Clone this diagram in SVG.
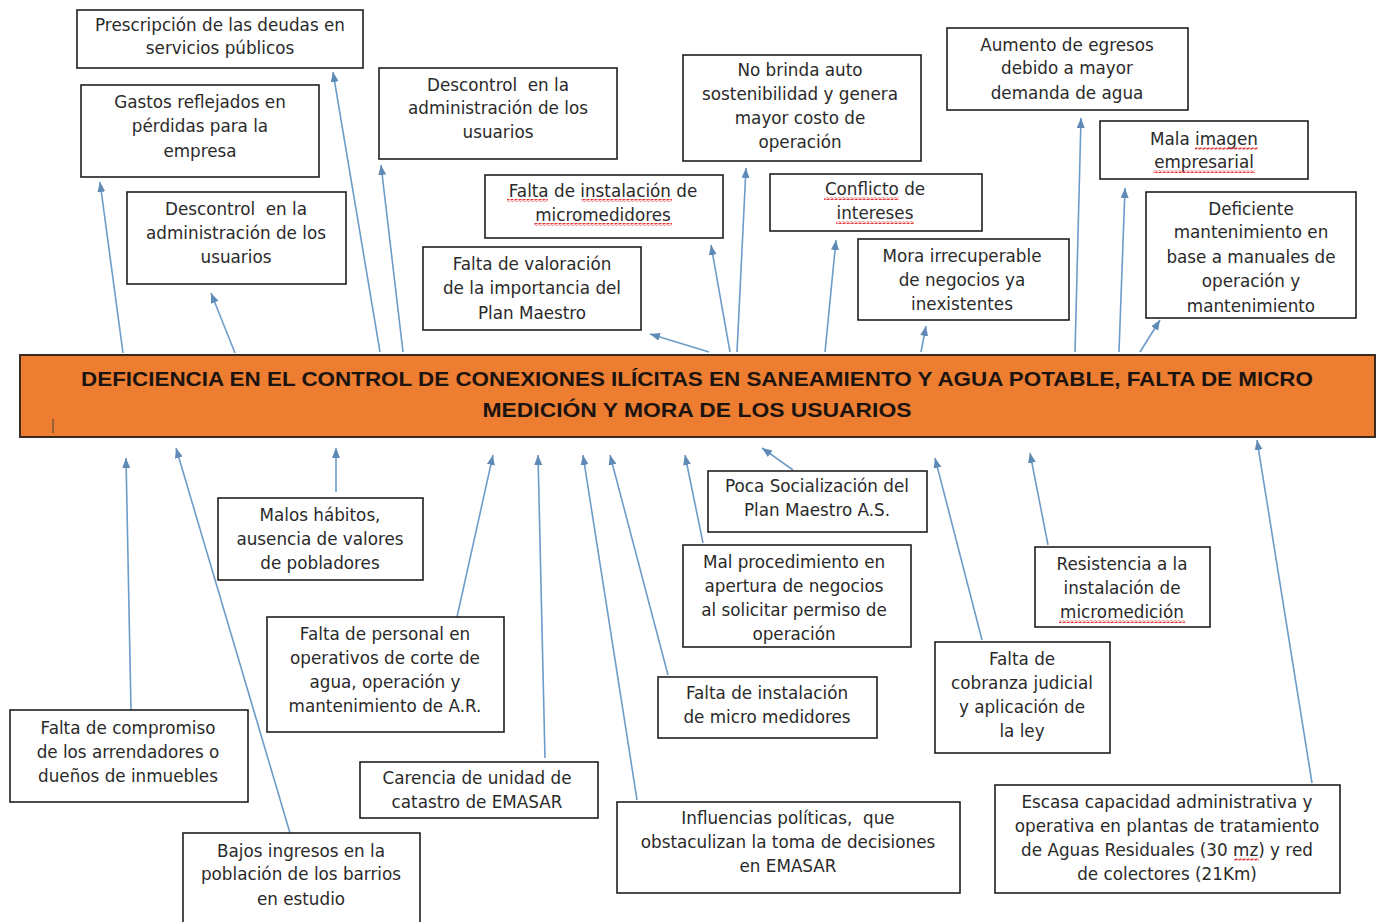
<svg xmlns="http://www.w3.org/2000/svg" width="1376" height="922" viewBox="0 0 1376 922">
<style>
.box{fill:#fff;stroke:#1e1e1e;stroke-width:1.6}
.t{font-family:"DejaVu Sans","Open Sans",sans-serif;font-size:16.8px;fill:#2a2a2a;text-anchor:middle;white-space:pre}
.c{stroke:#6e9cc8;stroke-width:1.6;fill:none;marker-end:url(#ah)}
.bar{fill:#ED7D31;stroke:#3a2a20;stroke-width:2}
.title{font-family:"Liberation Sans",Arial,sans-serif;font-size:21px;font-weight:bold;fill:#1c1410;text-anchor:middle}
.sq{fill:url(#wave)}
</style>
<defs>
<marker id="ah" markerUnits="userSpaceOnUse" markerWidth="12" markerHeight="10" refX="10" refY="4" orient="auto">
<path d="M0,0 L10,4 L0,8 z" fill="#5f8ab5"/>
</marker>
<pattern id="wave" patternUnits="userSpaceOnUse" width="4" height="3">
<path d="M0,2.5 L1,0.5 L3,2.5 L4,0.5" stroke="#e02020" stroke-width="0.9" fill="none"/>
</pattern>
</defs>
<rect width="1376" height="922" fill="#fff"/>

<g id="connectors">
<line class="c" x1="123" y1="353" x2="100" y2="182"/>
<line class="c" x1="235" y1="353" x2="211" y2="293"/>
<line class="c" x1="380" y1="352" x2="333" y2="72"/>
<line class="c" x1="403" y1="352" x2="381" y2="165"/>
<line class="c" x1="709" y1="352" x2="650" y2="334"/>
<line class="c" x1="730" y1="352" x2="711" y2="245"/>
<line class="c" x1="737" y1="352" x2="746" y2="168"/>
<line class="c" x1="825" y1="352" x2="836" y2="240"/>
<line class="c" x1="921" y1="352" x2="926" y2="326"/>
<line class="c" x1="1075" y1="352" x2="1081" y2="118"/>
<line class="c" x1="1119" y1="352" x2="1125" y2="188"/>
<line class="c" x1="1140" y1="352" x2="1160" y2="320"/>
<line class="c" x1="131" y1="710" x2="126" y2="458"/>
<line class="c" x1="290" y1="833" x2="176" y2="448"/>
<line class="c" x1="336" y1="492" x2="336" y2="448"/>
<line class="c" x1="457" y1="617" x2="493" y2="455"/>
<line class="c" x1="545" y1="758" x2="538" y2="455"/>
<line class="c" x1="637" y1="800" x2="583" y2="455"/>
<line class="c" x1="668" y1="675" x2="610" y2="455"/>
<line class="c" x1="703" y1="543" x2="685" y2="455"/>
<line class="c" x1="793" y1="470" x2="762" y2="448"/>
<line class="c" x1="982" y1="640" x2="935" y2="458"/>
<line class="c" x1="1048" y1="545" x2="1030" y2="453"/>
<line class="c" x1="1312" y1="783" x2="1257" y2="440"/>
</g>

<g id="problem">
<rect class="bar" x="20" y="355" width="1355" height="82"/>
<text class="title" x="697" y="386" textLength="1232" lengthAdjust="spacingAndGlyphs">DEFICIENCIA EN EL CONTROL DE CONEXIONES ILÍCITAS EN SANEAMIENTO Y AGUA POTABLE, FALTA DE MICRO</text>
<text class="title" x="697" y="417" textLength="429" lengthAdjust="spacingAndGlyphs">MEDICIÓN Y MORA DE LOS USUARIOS</text>
<line x1="53" y1="419" x2="53" y2="433" stroke="#444" stroke-width="1"/>
</g>

<g id="e1"><rect class="box" x="77" y="10" width="286" height="58"/>
<text class="t" x="220" y="31">Prescripción de las deudas en</text><text class="t" x="220" y="54">servicios públicos</text></g>
<g id="e2"><rect class="box" x="81" y="85" width="238" height="92"/>
<text class="t" x="200" y="108">Gastos reflejados en</text><text class="t" x="200" y="132">pérdidas para la</text><text class="t" x="200" y="157">empresa</text></g>
<g id="e3"><rect class="box" x="127" y="192" width="219" height="92"/>
<text class="t" x="236" y="215" xml:space="preserve">Descontrol  en la</text><text class="t" x="236" y="239">administración de los</text><text class="t" x="236" y="263">usuarios</text></g>
<g id="e4"><rect class="box" x="379" y="68" width="238" height="91"/>
<text class="t" x="498" y="91" xml:space="preserve">Descontrol  en la</text><text class="t" x="498" y="114">administración de los</text><text class="t" x="498" y="138">usuarios</text></g>
<g id="e5"><rect class="box" x="683" y="55" width="238" height="106"/>
<text class="t" x="800" y="76">No brinda auto</text><text class="t" x="800" y="100">sostenibilidad y genera</text><text class="t" x="800" y="124">mayor costo de</text><text class="t" x="800" y="148">operación</text></g>
<g id="e6"><rect class="box" x="485" y="175" width="238" height="63"/>
<text class="t" x="603" y="197">Falta de instalación de</text><text class="t" x="603" y="221">micromedidores</text>
<rect class="sq" x="507" y="199" width="41" height="3"/><rect class="sq" x="581" y="199" width="91" height="3"/><rect class="sq" x="534" y="223" width="138" height="3"/></g>
<g id="e7"><rect class="box" x="770" y="174" width="212" height="57"/>
<text class="t" x="875" y="195">Conflicto de</text><text class="t" x="875" y="219">intereses</text>
<rect class="sq" x="824" y="197" width="75" height="3"/><rect class="sq" x="836" y="221" width="78" height="3"/></g>
<g id="e8"><rect class="box" x="423" y="247" width="218" height="83"/>
<text class="t" x="532" y="270">Falta de valoración</text><text class="t" x="532" y="294">de la importancia del</text><text class="t" x="532" y="319">Plan Maestro</text></g>
<g id="e9"><rect class="box" x="858" y="239" width="211" height="81"/>
<text class="t" x="962" y="262">Mora irrecuperable</text><text class="t" x="962" y="286">de negocios ya</text><text class="t" x="962" y="310">inexistentes</text></g>
<g id="e10"><rect class="box" x="947" y="28" width="241" height="82"/>
<text class="t" x="1067" y="51">Aumento de egresos</text><text class="t" x="1067" y="74">debido a mayor</text><text class="t" x="1067" y="99">demanda de agua</text></g>
<g id="e11"><rect class="box" x="1100" y="121" width="208" height="58"/>
<text class="t" x="1204" y="145">Mala imagen</text><text class="t" x="1204" y="168">empresarial</text>
<rect class="sq" x="1195" y="147" width="63" height="3"/><rect class="sq" x="1153" y="170" width="102" height="3"/></g>
<g id="e12"><rect class="box" x="1146" y="192" width="210" height="126"/>
<text class="t" x="1251" y="215">Deficiente</text><text class="t" x="1251" y="238">mantenimiento en</text><text class="t" x="1251" y="263">base a manuales de</text><text class="t" x="1251" y="287">operación y</text><text class="t" x="1251" y="312">mantenimiento</text></g>

<g id="c1"><rect class="box" x="218" y="498" width="205" height="82"/>
<text class="t" x="320" y="521">Malos hábitos,</text><text class="t" x="320" y="545">ausencia de valores</text><text class="t" x="320" y="569">de pobladores</text></g>
<g id="c2"><rect class="box" x="267" y="617" width="237" height="115"/>
<text class="t" x="385" y="640">Falta de personal en</text><text class="t" x="385" y="664">operativos de corte de</text><text class="t" x="385" y="688">agua, operación y</text><text class="t" x="385" y="712">mantenimiento de A.R.</text></g>
<g id="c3"><rect class="box" x="10" y="710" width="238" height="92"/>
<text class="t" x="128" y="734">Falta de compromiso</text><text class="t" x="128" y="758">de los arrendadores o</text><text class="t" x="128" y="782">dueños de inmuebles</text></g>
<g id="c4"><rect class="box" x="183" y="833" width="237" height="90"/>
<text class="t" x="301" y="857">Bajos ingresos en la</text><text class="t" x="301" y="880">población de los barrios</text><text class="t" x="301" y="905">en estudio</text></g>
<g id="c5"><rect class="box" x="360" y="762" width="238" height="56"/>
<text class="t" x="477" y="784">Carencia de unidad de</text><text class="t" x="477" y="808">catastro de EMASAR</text></g>
<g id="c6"><rect class="box" x="617" y="802" width="343" height="91"/>
<text class="t" x="788" y="824" xml:space="preserve">Influencias políticas,  que</text><text class="t" x="788" y="848">obstaculizan la toma de decisiones</text><text class="t" x="788" y="872">en EMASAR</text></g>
<g id="c7"><rect class="box" x="708" y="471" width="219" height="61"/>
<text class="t" x="817" y="492">Poca Socialización del</text><text class="t" x="817" y="516">Plan Maestro A.S.</text></g>
<g id="c8"><rect class="box" x="683" y="545" width="228" height="102"/>
<text class="t" x="794" y="568">Mal procedimiento en</text><text class="t" x="794" y="592">apertura de negocios</text><text class="t" x="794" y="616">al solicitar permiso de</text><text class="t" x="794" y="640">operación</text></g>
<g id="c9"><rect class="box" x="658" y="677" width="219" height="61"/>
<text class="t" x="767" y="699">Falta de instalación</text><text class="t" x="767" y="723">de micro medidores</text></g>
<g id="c10"><rect class="box" x="935" y="642" width="175" height="111"/>
<text class="t" x="1022" y="665">Falta de</text><text class="t" x="1022" y="689">cobranza judicial</text><text class="t" x="1022" y="713">y aplicación de</text><text class="t" x="1022" y="737">la ley</text></g>
<g id="c11"><rect class="box" x="1035" y="547" width="175" height="80"/>
<text class="t" x="1122" y="570">Resistencia a la</text><text class="t" x="1122" y="594">instalación de</text><text class="t" x="1122" y="618">micromedición</text>
<rect class="sq" x="1059" y="620" width="126" height="3"/></g>
<g id="c12"><rect class="box" x="995" y="785" width="345" height="108"/>
<text class="t" x="1167" y="808">Escasa capacidad administrativa y</text><text class="t" x="1167" y="832">operativa en plantas de tratamiento</text><text class="t" x="1167" y="856">de Aguas Residuales (30 mz) y red</text><text class="t" x="1167" y="880">de colectores (21Km)</text>
<rect class="sq" x="1234" y="858" width="25" height="3"/></g>
</svg>
